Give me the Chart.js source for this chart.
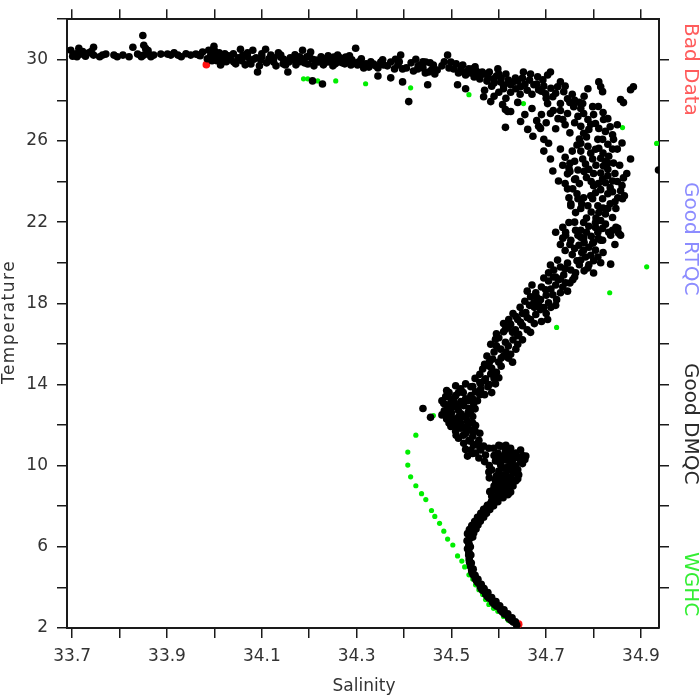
<!DOCTYPE html>
<html>
<head>
<meta charset="utf-8">
<script src="https://cdn.jsdelivr.net/npm/chart.js@4.4.0/dist/chart.umd.min.js"></script>
<style>
  html, body { margin: 0; padding: 0; background: #fff; }
  #box { width: 700px; height: 700px; }
</style>
</head>
<body>
<div id="box"><canvas id="tsChart" width="700" height="700"></canvas></div>
<script>
// axis ticks
var salTicks = [33.7, 33.8, 33.9, 34.0, 34.1, 34.2, 34.3, 34.4, 34.5, 34.6, 34.7, 34.8, 34.9]
var tempTicks = [2, 4, 6, 8, 10, 12, 14, 16, 18, 20, 22, 24, 26, 28, 30, 32]
var tempTicksRight = [4, 6, 8, 10, 12, 14, 16, 18, 20, 22, 24, 26, 28, 30]

var legendLabels = ['Bad Data', 'Good RTQC', 'Good DMQC', 'WGHC']

// [salinity, temperature]
var dmqcSurface = [
  [33.697,30.47],[33.701,30.18],[33.714,30.57],[33.718,30.28],[33.728,30.18],[33.708,30.3],[33.722,30.4],
  [33.745,30.62],[33.745,30.23],[33.764,30.23],[33.771,30.28],[33.788,30.23],[33.807,30.23],[33.828,30.62],
  [33.838,30.28],[33.849,31.2],[33.851,30.72],[33.851,30.23],[33.861,30.28],[33.872,30.23],[33.887,30.28],
  [33.901,30.28],[33.908,30.23],[33.923,30.23],[33.95,30.23],[33.961,30.28],[33.967,30.23],[33.975,30.38],
  [33.988,30.47],[33.997,30.28],[33.999,30.67],[34.007,30.23],[34.013,30.03],[34.013,29.74],[34.02,30.13],
  [34.028,30.03],[34.041,29.89],[34.055,30.52],[34.06,30.23],[34.081,30.47],[34.083,30.03],[34.077,29.79],
  [34.091,29.4],[34.098,29.99],[34.108,30.52],[34.119,30.23],[34.125,29.89],[34.14,30.23],[34.146,30.03],
  [34.157,29.89],[33.735,30.35],[33.86,30.45],[33.93,30.15],[34.0,30.1],[34.005,29.95],[34.03,30.2],
  [34.07,30.15],[34.1,30.3],[34.115,30.05],
  [34.14,30.13],[34.15,29.74],[34.155,29.4],[34.167,29.99],[34.176,30.03],[34.186,30.47],[34.188,30.03],
  [34.197,29.79],[34.203,30.38],[34.207,30.03],[34.207,28.96],[34.214,29.99],[34.22,29.89],[34.228,28.81],
  [34.231,30.03],[34.239,29.89],[34.252,30.13],[34.26,30.23],[34.262,29.89],[34.271,30.03],[34.277,30.13],
  [34.283,29.99],[34.288,29.74],[34.298,30.57],[34.302,29.74],[34.313,29.74],[34.326,29.64],[34.336,29.79],
  [34.345,29.2],[34.351,29.89],[34.357,29.74],[34.372,29.89],[34.372,29.11],[34.382,30.03],[34.387,29.74],
  [34.393,30.23],[34.397,28.91],[34.41,27.94],[34.425,30.03],[34.429,29.55],[34.435,29.74],[34.446,29.89],
  [34.45,28.77],[34.452,29.4],[34.462,29.74],[34.492,30.23],[34.499,29.89],[34.505,29.55],[34.513,28.77],
  [34.524,29.74],[34.526,29.4],[34.53,28.57],[34.545,29.55],[34.555,29.4],[34.562,29.25],[34.568,28.18],
  [34.577,29.16],[34.583,27.94],[34.589,29.06],[34.598,29.55],[34.604,28.91],[34.608,27.79],[34.61,28.57],
  [34.619,27.45],[34.625,28.77],
  [34.16,30.1],[34.18,29.9],[34.195,30.15],[34.235,30.05],[34.245,29.95],[34.255,29.8],[34.27,29.85],
  [34.29,30.0],[34.305,29.9],[34.32,29.8],[34.34,29.7],[34.44,29.6],[34.455,29.85],[34.47,29.5],
  [34.397,29.55],[34.537,29.55],[34.541,29.35],[34.552,29.45],[34.558,29.25],[34.572,29.3],[34.595,29.2],
  [34.605,29.1],[34.615,29.3],[34.63,28.9],[34.636,28.57],[34.64,28.95],[34.646,28.67],[34.62,29.0],
  [34.585,28.7],[34.57,28.5],[34.6,28.4],[34.59,28.2]
]

var dmqcSurfaceFill = [
  [33.71,30.15],[33.725,30.3],[33.74,30.4],
  [33.758,30.15],[33.795,30.15],[33.82,30.15],
  [33.846,30.15],[33.855,30.55],[33.866,30.15],[33.915,30.35],
  [33.94,30.3],[33.97,30.2],[33.985,30.05],[33.992,30.2],
  [33.995,29.95],[34.0,30.45],[34.01,30.35],[34.015,29.85],[34.022,30.3],[34.025,29.9],[34.035,30.0],
  [34.04,30.3],[34.045,29.8],[34.05,30.1],[34.058,29.95],[34.065,29.75],[34.07,30.35],[34.075,29.95],
  [34.088,30.1],[34.095,29.7],[34.1,30.15],[34.11,29.85],
  [34.125,30.1],[34.13,29.7],[34.135,30.35],[34.145,29.8],[34.17,30.25],[34.172,29.75],[34.18,30.15],
  [34.19,29.85],[34.2,30.2],[34.21,29.7],[34.225,30.15],[34.23,29.75],[34.24,30.2],[34.25,29.7],
  [34.265,30.1],[34.275,29.8],[34.285,30.2],[34.295,29.85],[34.31,30.05],[34.315,29.6],[34.33,29.9],
  [34.345,29.6],[34.355,30.0],[34.365,29.7],[34.38,29.55],[34.39,29.9],[34.405,29.6],[34.415,29.85],
  [34.42,29.45],[34.43,29.7],[34.44,29.9],[34.445,29.35],[34.458,29.5],[34.465,29.3],
  [34.48,29.7],[34.485,29.9],[34.495,29.6],[34.51,29.8],[34.515,29.35],[34.52,29.55],[34.53,29.25],
  [34.535,29.45],[34.548,29.15],[34.55,29.65],[34.56,29.05],[34.565,29.4],[34.575,28.95],[34.58,29.4],
  [34.59,28.85],[34.6,29.3],[34.61,28.75],[34.615,28.1],[34.625,28.4],[34.635,29.1],[34.645,28.3],
  [34.65,29.1],[34.655,28.8],[34.66,28.5],[34.665,29.0],[34.67,28.3],[34.68,28.8],[34.69,28.45],
  [34.695,28.7],[34.7,28.1],[34.71,28.6],[34.72,28.35],[34.73,27.5],[34.74,28.7],[34.75,27.9],
  [34.755,28.3],[34.76,28.0],[34.77,27.9],[34.78,28.2]
]

var dmqcUpper = [
  [34.614,27.55],[34.625,27.45],[34.614,26.67],[34.646,26.96],[34.661,26.57],[34.672,26.23],[34.688,26.62],
  [34.695,26.08],[34.705,25.89],[34.695,25.5],[34.709,25.11],[34.714,24.52],[34.726,24.03],[34.745,24.38],
  [34.748,24.67],[34.762,24.13],[34.767,24.57],[34.652,29.4],[34.667,29.3],[34.682,29.16],[34.693,29.01],
  [34.703,29.25],[34.709,29.4],[34.674,28.77],[34.684,28.52],[34.699,28.33],[34.714,28.18],[34.724,28.67],
  [34.73,28.91],[34.737,28.43],[34.745,28.08],[34.703,27.84],[34.709,27.35],[34.73,27.84],[34.735,27.06],
  [34.745,27.35],[34.758,27.69],[34.767,27.21],[34.773,27.6],[34.779,27.35],[34.788,27.06],[34.794,26.82],
  [34.773,26.72],[34.779,26.38],[34.79,26.57],[34.804,26.86],[34.811,26.62],[34.821,27.06],[34.825,26.47],
  [34.809,26.08],[34.819,26.08],[34.83,25.84],[34.842,26.08],[34.773,25.89],[34.773,25.5],[34.788,25.74],
  [34.794,25.4],[34.804,25.59],[34.811,25.64],[34.777,25.11],[34.783,24.86],[34.798,25.11],[34.815,25.15],
  [34.821,24.77],[34.832,25.25],[34.83,24.91],[34.842,24.91],[34.878,25.11],[34.815,24.42],[34.819,24.13],
  [34.83,24.28],[34.84,24.03],[34.863,24.18],[34.825,23.94],[34.84,23.5],[34.857,23.55],[34.861,23.15],
  [34.8,23.79],[34.804,23.45],[34.794,23.3],[34.779,23.2],[34.767,23.15],[34.756,23.64],[34.748,23.2],
  [34.752,22.81],[34.762,22.47],[34.773,22.67],[34.788,22.81],[34.798,23.15],[34.809,22.81],[34.819,23.15],
  [34.83,23.4],[34.851,23.2],[34.811,22.47],[34.83,22.67],[34.847,22.67],[34.84,22.23],[34.815,22.08],
  [34.804,21.98],[34.779,21.98],[34.773,21.6],[34.748,21.98],[34.741,21.5],[34.735,21.21],[34.752,21.11],
  [34.767,21.35],[34.779,21.21],[34.809,21.5],[34.819,21.69],[34.832,21.5],[34.851,21.69],[34.857,21.35],
  [34.8,21.01],[34.815,21.11],[34.811,28.91],[34.815,28.67],[34.819,28.43],[34.878,28.52],[34.884,28.67],
  [34.857,28.04],[34.863,27.89],[34.937,24.57],[34.788,28.57],[34.777,27.84],[34.798,27.69],[34.684,26.72],
  [34.745,23.64],[34.752,22.9]
]

var dmqcUpperFill = [
  [34.64,27.9],[34.655,27.3],[34.67,27.6],[34.68,27.0],[34.69,27.3],[34.7,26.9],[34.715,27.5],
  [34.72,26.6],[34.725,27.1],[34.74,26.8],[34.75,26.4],[34.76,26.9],[34.77,26.1],[34.785,26.2],
  [34.8,27.3],[34.81,27.7],[34.82,27.4],[34.83,27.1],[34.835,26.7],[34.84,26.3],[34.85,26.8],
  [34.85,25.6],[34.86,25.9],
  [34.73,25.6],[34.74,25.2],[34.75,24.9],[34.755,25.5],[34.76,25.0],[34.765,25.8],[34.78,24.5],
  [34.785,24.2],[34.79,24.6],[34.795,24.0],[34.8,24.4],[34.805,24.8],[34.81,23.9],[34.815,23.6],
  [34.82,25.4],[34.825,25.0],[34.83,24.6],[34.835,23.7],[34.84,25.6],[34.845,24.4],[34.85,24.0],
  [34.855,24.8],[34.86,23.8],[34.865,23.3],[34.87,24.4],[34.845,23.0],[34.835,22.9],[34.825,22.4],
  [34.82,22.7],[34.805,22.2],[34.795,22.5],[34.785,22.2],[34.775,22.9],[34.76,22.0],[34.765,23.4],
  [34.77,23.9],[34.76,24.1],[34.75,24.5],[34.74,23.9],[34.735,24.8],
  [34.72,21.5],[34.73,20.9],[34.74,20.6],[34.75,20.9],[34.755,20.4],[34.76,20.7],[34.765,20.1],
  [34.775,20.5],[34.78,21.0],[34.785,21.5],[34.79,21.8],[34.795,21.3],[34.81,21.2],[34.825,21.9],
  [34.84,21.6],[34.845,20.9],[34.82,20.5],[34.815,20.0],[34.8,20.1],[34.79,19.9],[34.78,19.6],
  [34.77,19.9],[34.76,19.3],[34.75,19.0],[34.74,19.7],[34.73,19.2],[34.715,19.3],[34.705,19.1],
  [34.71,18.7],[34.72,18.9],[34.735,18.8],[34.745,18.6]
]

var dmqcMiddle = [
  [34.735,21.74],[34.741,21.35],[34.762,21.6],[34.773,21.25],[34.804,21.74],[34.819,21.11],[34.847,21.74],
  [34.853,21.45],[34.836,21.35],[34.769,20.86],[34.779,20.62],[34.79,20.76],[34.794,20.37],[34.804,20.62],
  [34.809,20.28],[34.783,20.28],[34.773,20.13],[34.798,20.96],[34.836,19.93],[34.8,19.49],[34.788,19.74],
  [34.709,19.89],[34.716,19.64],[34.724,20.13],[34.73,19.79],[34.737,19.4],[34.745,19.98],[34.752,19.64],
  [34.756,19.16],[34.762,19.5],[34.741,19.01],[34.726,19.16],[34.72,19.3],[34.705,19.5],[34.695,19.25],
  [34.667,18.32],[34.678,18.52],[34.688,18.18],[34.699,18.67],[34.705,18.03],[34.714,18.42],[34.722,18.18],
  [34.73,18.52],[34.684,17.94],[34.695,17.79],[34.674,18.03],[34.667,16.57],[34.703,17.2],[34.614,16.72],
  [34.625,16.96],[34.636,17.35],[34.646,17.06],[34.657,17.55],[34.667,17.2],[34.678,17.45],[34.688,17.69],
  [34.629,16.57],[34.642,16.47],[34.621,17.2],[34.583,15.98],[34.593,16.23],[34.604,15.74],[34.614,16.08],
  [34.625,15.49],[34.636,15.74],[34.587,15.25],[34.6,15.1],[34.61,15.4],[34.579,14.91],[34.629,15.1],
  [34.64,15.98],[34.566,14.76],[34.572,14.28],[34.583,14.52],[34.593,14.03],[34.562,13.79],[34.577,13.89],
  [34.6,14.33],
  [34.509,13.94],[34.52,13.79],[34.53,14.03],[34.541,13.89],[34.551,13.64],[34.562,14.03],[34.488,13.4],
  [34.499,13.3],[34.509,13.45],[34.52,13.16],[34.53,13.3],[34.541,13.45],[34.484,13.06],[34.494,12.82],
  [34.505,12.91],[34.515,12.72],[34.526,12.96],[34.537,12.82],[34.547,13.06],[34.492,12.47],[34.503,12.32],
  [34.513,12.18],[34.524,12.42],[34.534,12.18],[34.545,12.42],[34.499,11.93],[34.509,11.69],[34.52,11.84],
  [34.53,11.59],[34.541,11.74],[34.551,11.98],[34.515,11.35],[34.526,11.1],[34.537,11.25],[34.547,11.01],
  [34.558,11.25],[34.568,10.96],[34.541,10.77],[34.551,10.62],[34.562,10.77],[34.572,10.52],[34.579,10.86],
  [34.558,10.38],[34.534,10.47],[34.44,12.82],[34.456,12.38],
  [34.49,13.7],[34.5,13.1],[34.515,13.6],[34.535,12.6],[34.52,12.55],[34.505,12.05],[34.53,11.9],
  [34.545,11.45],[34.56,11.6],[34.485,12.7],[34.51,11.5]
]

var dmqcMiddleFill = [
  [34.66,18.6],[34.67,18.9],[34.68,18.3],[34.69,18.8],[34.7,18.4],[34.71,17.8],[34.72,17.9],
  [34.675,17.8],[34.665,17.9],[34.655,18.1],[34.66,17.3],[34.65,17.5],[34.645,17.8],[34.64,17.2],
  [34.63,17.5],[34.62,16.8],[34.61,17.0],[34.635,16.7],[34.65,16.9],[34.66,16.7],[34.675,17.0],
  [34.69,17.1],[34.7,17.5],[34.65,16.2],[34.64,16.4],[34.63,16.2],[34.62,15.9],[34.6,16.3],
  [34.595,16.5],[34.61,16.6],
  [34.59,15.6],[34.595,15.9],[34.605,15.3],[34.615,15.6],[34.62,15.3],[34.575,15.4],[34.58,15.1],
  [34.57,15.0],[34.585,14.8],[34.595,14.6],[34.605,14.9],[34.56,14.5],[34.57,14.2],[34.58,14.0],
  [34.59,14.3],[34.56,14.1],[34.55,14.3],[34.545,13.9],[34.585,13.6],[34.57,13.5],
  [34.48,13.2],[34.49,13.0],[34.495,13.6],[34.505,13.2],[34.51,12.9],[34.515,13.0],[34.525,13.6],
  [34.535,13.2],[34.545,13.3],[34.555,13.2],[34.56,13.5],[34.55,12.8],[34.54,12.6],[34.53,12.4],
  [34.515,12.4],[34.5,12.6],[34.49,12.3],[34.48,12.5],[34.495,12.1],[34.51,11.9],[34.52,12.1],
  [34.535,11.9],[34.545,12.1],[34.55,11.7],[34.525,11.5],[34.54,11.2],[34.555,11.1],[34.56,10.9],
  [34.53,10.8],[34.545,10.6]
]

var dmqcKnee = [
  [34.589,10.86],[34.598,10.62],[34.604,10.96],[34.614,10.72],[34.625,10.86],[34.636,10.62],[34.646,10.77],
  [34.657,10.47],[34.593,10.23],[34.604,10.03],[34.614,10.28],[34.625,10.13],[34.636,9.99],[34.646,10.23],
  [34.6,9.74],[34.61,9.55],[34.619,9.79],[34.631,9.64],[34.642,9.55],[34.579,9.69],[34.593,9.25],
  [34.604,9.06],[34.614,9.3],[34.625,9.15],[34.636,9.25],[34.587,8.77],[34.598,8.67],[34.608,8.81],
  [34.619,8.57],[34.581,8.72],
  [34.59,10.5],[34.6,10.4],[34.61,10.5],[34.62,10.4],[34.63,10.3],[34.64,10.4],[34.65,10.1],
  [34.6,10.2],[34.61,9.9],[34.62,9.95],[34.63,9.85],[34.64,9.8],[34.595,9.5],[34.605,9.35],
  [34.615,9.55],[34.625,9.45],[34.63,9.3],[34.64,9.35],[34.59,9.0],[34.6,8.9],[34.61,9.05],
  [34.62,8.95],[34.63,9.0],[34.625,8.7],[34.615,8.6],[34.605,8.5],[34.585,8.5],[34.595,8.3],
  [34.57,10.2],[34.58,10.0],[34.585,9.8],[34.58,9.4],[34.6,11.0],[34.615,11.0],[34.62,10.7],
  [34.63,10.6],[34.65,10.5],[34.655,10.3]
]

var dmqcDeep = [
  [34.6146,8.72],[34.6019,8.53],[34.5914,8.33],[34.5829,8.14],[34.5745,7.94],[34.5681,7.75],[34.5618,7.55],
  [34.5555,7.36],[34.5492,7.16],[34.545,6.97],[34.5407,6.77],[34.5386,6.58],[34.5376,6.38],[34.5365,6.19],
  [34.5365,5.99],[34.5365,5.8],[34.5365,5.6],[34.5376,5.41],[34.5386,5.21],[34.5407,5.02],[34.5428,4.82],
  [34.546,4.63],[34.5502,4.43],[34.5555,4.24],[34.5608,4.04],[34.566,3.85],[34.5724,3.65],[34.5797,3.46],
  [34.5871,3.26],[34.5956,3.07],[34.604,2.87],[34.6124,2.68],[34.6209,2.48],[34.6304,2.29],[34.6378,2.14],
  [34.608,8.6],[34.596,8.45],[34.585,8.25],[34.576,8.05],[34.568,7.85],[34.562,7.65],[34.555,7.45],
  [34.549,7.25],[34.543,7.05],[34.538,6.85],[34.534,6.65],
  [34.62,8.62],[34.609,8.42],[34.598,8.22],[34.589,8.02],[34.581,7.84],[34.574,7.65],[34.568,7.46],
  [34.561,7.26],[34.556,7.07],[34.552,6.88],[34.547,6.68],[34.545,6.48],
  [34.5375,6.1],[34.537,5.7],[34.538,5.3],[34.544,4.72],[34.553,4.33],[34.563,3.94],[34.576,3.55],
  [34.591,3.16],[34.608,2.77],[34.626,2.38],[34.534,5.9],[34.533,6.3],
  [34.54,6.0],[34.541,5.6],[34.542,5.2],[34.546,4.9],[34.55,4.6],[34.556,4.4],[34.563,4.15],
  [34.569,3.95],[34.577,3.75],[34.585,3.5],[34.594,3.3],[34.602,3.1],[34.611,2.9],[34.619,2.7],
  [34.628,2.5],[34.635,2.3]
]

var rtqcPoints = []

var wghcPoints = [
  [34.188,29.06],[34.197,29.06],[34.218,28.96],[34.256,28.96],[34.319,28.82],[34.414,28.62],[34.537,28.28],
  [34.652,27.84],[34.861,26.66],[34.933,25.88],[34.912,19.8],[34.834,18.52],[34.722,16.81],[34.462,12.47],
  [34.425,11.5],[34.408,10.67],[34.408,10.03],[34.414,9.45],[34.425,9.01],[34.437,8.62],[34.446,8.33],
  [34.458,7.79],[34.465,7.5],[34.475,7.16],[34.484,6.77],[34.492,6.38],[34.503,6.09],[34.513,5.55],
  [34.522,5.3],[34.528,5.01],[34.537,4.62],[34.545,4.42],[34.551,4.13],[34.558,3.89],[34.566,3.65],
  [34.572,3.4],[34.579,3.16],[34.589,2.97],[34.598,2.82],[34.61,2.57],[34.62,2.38]
]

var badPoints = [[33.983,29.76],[34.642,2.19]]

function toXY(list) {
    return list.map(function (p) { return { x: p[0], y: p[1] } })
}

var dmqcAll = [].concat(dmqcSurface, dmqcSurfaceFill, dmqcUpper, dmqcUpperFill,
    dmqcMiddle, dmqcMiddleFill, dmqcKnee, dmqcDeep)

var fontFamily = '"DejaVu Sans", sans-serif'
var axisColor = '#1a1a1a'
var labelColor = '#333333'

// axis titles and the rotated labels down the right side
var sideText = {
    id: 'sideText',
    afterDraw: function (chart) {
        var ctx = chart.ctx
        var starts = [23, 182, 363, 552]
        var colors = ['#ff5c5c', '#8c8cff', '#2a2a2a', '#33ee33']
        ctx.save()
        ctx.font = '20px ' + fontFamily
        ctx.textAlign = 'left'
        ctx.textBaseline = 'alphabetic'
        for (var i = 0; i < legendLabels.length; i++) {
            ctx.save()
            ctx.translate(685, starts[i])
            ctx.rotate(Math.PI / 2)
            ctx.fillStyle = colors[i]
            ctx.fillText(legendLabels[i], 0, 0)
            ctx.restore()
        }

        ctx.fillStyle = labelColor
        ctx.font = '17px ' + fontFamily
        ctx.textAlign = 'center'
        ctx.textBaseline = 'middle'
        ctx.fillText('Salinity', 364, 687)

        ctx.save()
        ctx.translate(10, 322)
        ctx.rotate(-Math.PI / 2)
        ctx.letterSpacing = '1.5px'
        ctx.fillText('Temperature', 0, 0)
        ctx.restore()
        ctx.restore()
    }
}

function gridStyle() {
    return { drawOnChartArea: false, drawTicks: true, tickLength: 10, color: axisColor, lineWidth: 1.5 }
}
function borderStyle() {
    return { display: true, color: axisColor, width: 2 }
}

var config = {
    type: 'scatter',
    data: {
        datasets: [
            { label: 'Good DMQC', data: toXY(dmqcAll), backgroundColor: '#000000', pointRadius: 3.8, borderWidth: 0, order: 0 },
            { label: 'Good RTQC', data: toXY(rtqcPoints), backgroundColor: '#8c8cff', pointRadius: 3, borderWidth: 0, order: 1 },
            { label: 'WGHC', data: toXY(wghcPoints), backgroundColor: '#00ee00', pointRadius: 2.6, borderWidth: 0, order: 2 },
            { label: 'Bad Data', data: toXY(badPoints), backgroundColor: '#ff1010', pointRadius: 3.8, borderWidth: 0, order: 3 }
        ]
    },
    options: {
        responsive: false,
        animation: false,
        devicePixelRatio: 1,
        layout: { padding: 0 },
        plugins: { legend: { display: false }, tooltip: { enabled: false } },
        scales: {
            x: {
                type: 'linear', position: 'bottom', min: 33.689, max: 34.938,
                afterBuildTicks: function (s) { s.ticks = salTicks.map(function (v) { return { value: v } }) },
                afterFit: function (s) { s.height = 72 },
                ticks: {
                    autoSkip: false, maxRotation: 0, padding: 8, color: labelColor,
                    font: { family: fontFamily, size: 17 },
                    callback: function (v, i) { return i % 2 === 0 ? v.toFixed(1) : '' }
                },
                grid: gridStyle(), border: borderStyle()
            },
            x2: {
                type: 'linear', position: 'top', min: 33.689, max: 34.938,
                afterBuildTicks: function (s) { s.ticks = salTicks.map(function (v) { return { value: v } }) },
                afterFit: function (s) { s.height = 12 },
                ticks: { display: false },
                grid: gridStyle(), border: borderStyle()
            },
            y: {
                type: 'linear', position: 'left', min: 2, max: 32,
                afterBuildTicks: function (s) { s.ticks = tempTicks.map(function (v) { return { value: v } }) },
                afterFit: function (s) { s.width = 67 },
                ticks: {
                    autoSkip: false, padding: 9, color: labelColor,
                    font: { family: fontFamily, size: 17 },
                    callback: function (v) { return (v - 2) % 4 === 0 && v < 32 ? String(v) : '' }
                },
                grid: gridStyle(), border: borderStyle()
            },
            y2: {
                type: 'linear', position: 'right', min: 2, max: 32,
                afterBuildTicks: function (s) { s.ticks = tempTicksRight.map(function (v) { return { value: v } }) },
                afterFit: function (s) { s.width = 41 },
                ticks: { display: false },
                grid: gridStyle(), border: borderStyle()
            }
        }
    },
    plugins: [sideText]
}

var myChart = new Chart(document.getElementById('tsChart'), config)
</script>
</body>
</html>
